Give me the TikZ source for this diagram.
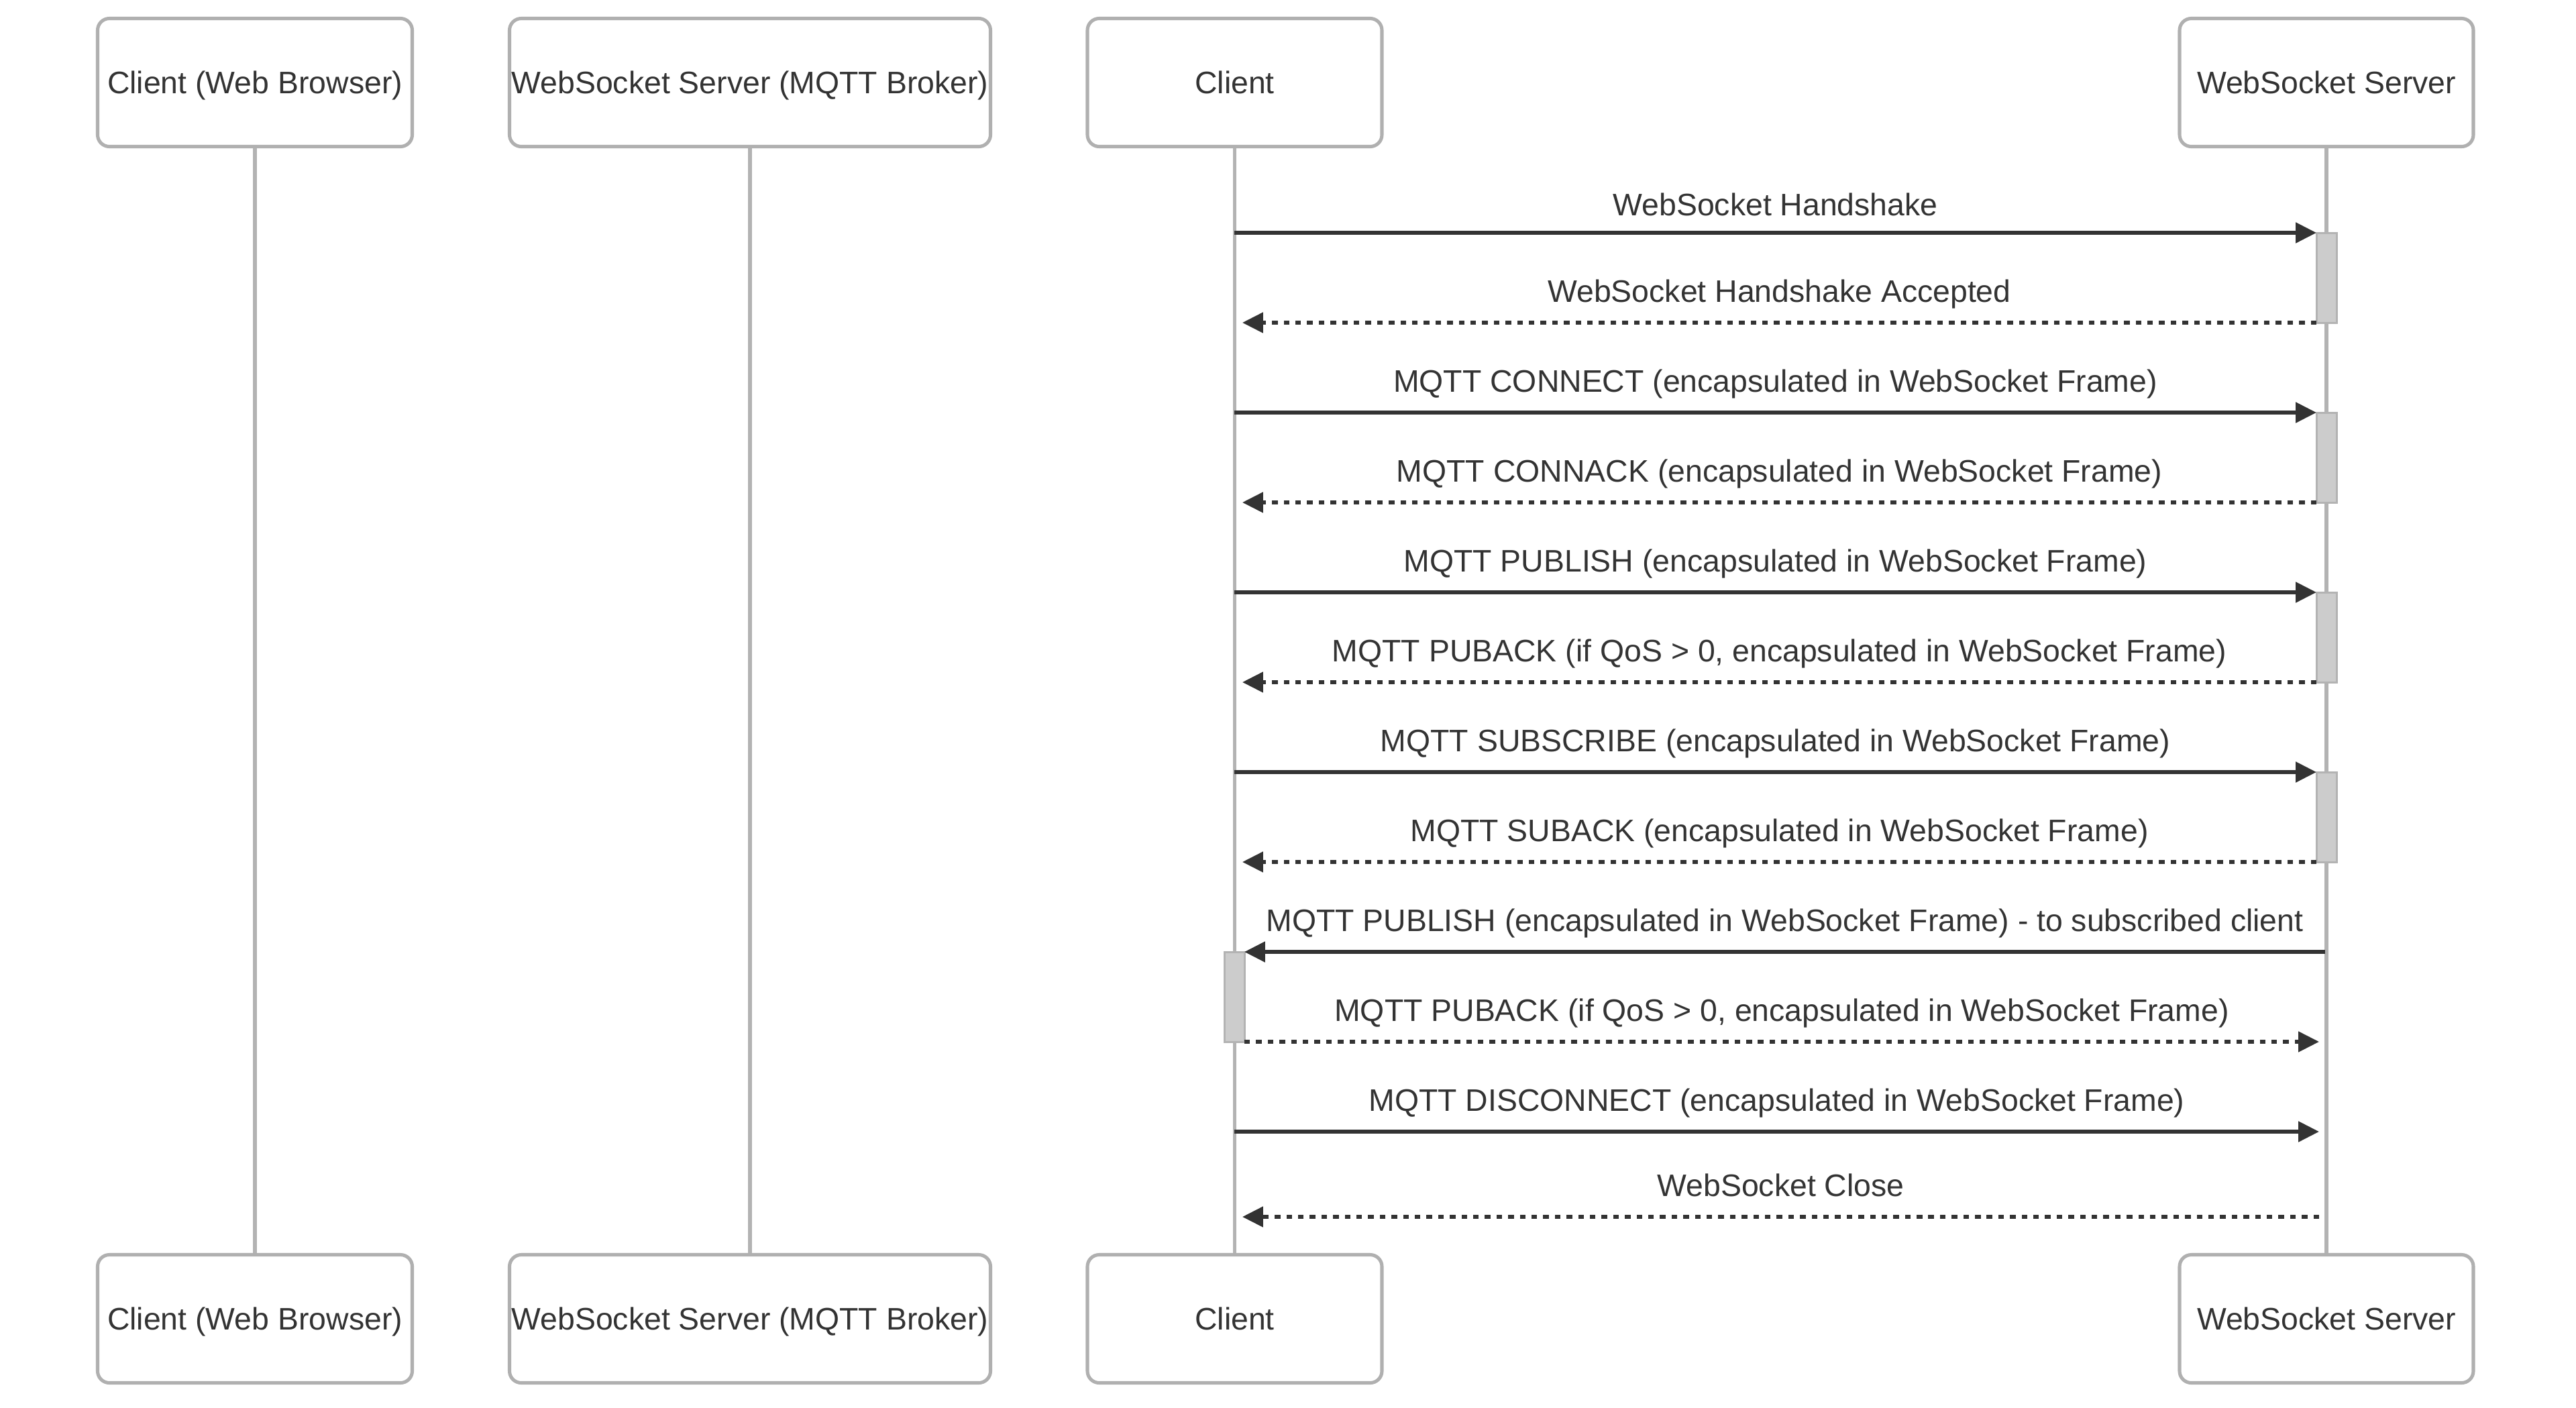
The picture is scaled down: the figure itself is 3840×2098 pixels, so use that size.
\documentclass[tikz,border=0pt]{standalone}
\usepackage{fontspec}
\setmainfont{Liberation Sans}
\usetikzlibrary{arrows.meta,calc}
\definecolor{ink}{HTML}{333333}
\definecolor{lifeg}{HTML}{B3B3B3}
\definecolor{boxg}{HTML}{B0B0B0}
\definecolor{actf}{HTML}{CCCCCC}
\begin{document}
\begin{tikzpicture}[x=0.1mm,y=-0.1mm,
  font=\fontsize{13.2pt}{16pt}\selectfont, text=ink,
  actor/.style={draw=boxg, line width=1.45pt, rounded corners=5pt, fill=white,
    minimum height=19.1mm, inner sep=0pt, text height=9.45pt, text depth=0pt},
  life/.style={draw=lifeg, line width=1.5pt},
  actbox/.style={draw=lifeg, line width=0.85pt, fill=actf, minimum width=3mm, inner sep=0pt},
  msg/.style={draw=ink, line width=1.6pt, -{Triangle[length=8.8pt,width=8.5pt]}},
  reply/.style={msg, line width=1.5pt, dash pattern=on 2.4pt off 2.55pt},
  lbl/.style={anchor=base, inner sep=0pt}]
\useasboundingbox (0,0) rectangle (3840,2098);
% actor boxes
\node[actor, minimum width=46.9mm] (aT) at (380,123) {Client (Web Browser)};
\node[actor, minimum width=71.7mm] (bT) at (1118,123) {WebSocket Server (MQTT Broker)};
\node[actor, minimum width=43.9mm] (cT) at (1840.5,123) {Client};
\node[actor, minimum width=43.8mm] (dT) at (3468,123) {WebSocket Server};
\node[actor, minimum width=46.9mm] (aB) at (380,1966) {Client (Web Browser)};
\node[actor, minimum width=71.7mm] (bB) at (1118,1966) {WebSocket Server (MQTT Broker)};
\node[actor, minimum width=43.9mm] (cB) at (1840.5,1966) {Client};
\node[actor, minimum width=43.8mm] (dB) at (3468,1966) {WebSocket Server};
% lifelines
\draw[life] (aT.south) -- (aB.north);
\draw[life] (bT.south) -- (bB.north);
\draw[life] (cT.south) -- (cB.north);
\draw[life] (dT.south) -- (dB.north);
% activations
\node[actbox, minimum height=13.4mm] (act1) at (3468,414) {};
\node[actbox, minimum height=13.4mm] (act2) at (3468,682) {};
\node[actbox, minimum height=13.4mm] (act3) at (3468,950) {};
\node[actbox, minimum height=13.4mm] (act4) at (3468,1218) {};
\node[actbox, minimum height=13.4mm] (act5) at (1840,1486) {};
% endpoints
\coordinate (c1) at (1840,347);  \coordinate (s1) at (3453,347);
\coordinate (s2) at (3453,481);  \coordinate (c2) at (1852,481);
\coordinate (c3) at (1840,615);  \coordinate (s3) at (3453,615);
\coordinate (s4) at (3453,749);  \coordinate (c4) at (1852,749);
\coordinate (c5) at (1840,883);  \coordinate (s5) at (3453,883);
\coordinate (s6) at (3453,1017); \coordinate (c6) at (1852,1017);
\coordinate (c7) at (1840,1151); \coordinate (s7) at (3453,1151);
\coordinate (s8) at (3453,1285); \coordinate (c8) at (1852,1285);
\coordinate (s9) at (3466,1419); \coordinate (c9) at (1855,1419);
\coordinate (c10) at (1855,1553); \coordinate (s10) at (3457,1553);
\coordinate (c11) at (1840,1687); \coordinate (s11) at (3457,1687);
\coordinate (s12) at (3457,1814); \coordinate (c12) at (1852,1814);
% messages
\draw[msg] (c1) -- (s1);
\draw[reply] (s2) -- (c2);
\draw[msg] (c3) -- (s3);
\draw[reply] (s4) -- (c4);
\draw[msg] (c5) -- (s5);
\draw[reply] (s6) -- (c6);
\draw[msg] (c7) -- (s7);
\draw[reply] (s8) -- (c8);
\draw[msg] (s9) -- (c9);
\draw[reply] (c10) -- (s10);
\draw[msg] (c11) -- (s11);
\draw[reply] (s12) -- (c12);
% labels
\node[lbl] (m1) at ($(c1)!0.5!(s1)+(0,-26)$) {WebSocket Handshake};
\node[lbl] (m2) at ($(c2)!0.5!(s2)+(0,-31)$) {WebSocket Handshake Accepted};
\node[lbl] (m3) at ($(c3)!0.5!(s3)+(0,-31)$) {MQTT CONNECT (encapsulated in WebSocket Frame)};
\node[lbl] (m4) at ($(c4)!0.5!(s4)+(0,-31)$) {MQTT CONNACK (encapsulated in WebSocket Frame)};
\node[lbl] (m5) at ($(c5)!0.5!(s5)+(0,-31)$) {MQTT PUBLISH (encapsulated in WebSocket Frame)};
\node[lbl] (m6) at ($(c6)!0.5!(s6)+(0,-31)$) {MQTT PUBACK (if QoS > 0, encapsulated in WebSocket Frame)};
\node[lbl] (m7) at ($(c7)!0.5!(s7)+(0,-31)$) {MQTT SUBSCRIBE (encapsulated in WebSocket Frame)};
\node[lbl] (m8) at ($(c8)!0.5!(s8)+(0,-31)$) {MQTT SUBACK (encapsulated in WebSocket Frame)};
\node[lbl] (m9) at ($(c9)!0.5!(s9)+(0,-31)$) {MQTT PUBLISH (encapsulated in WebSocket Frame) - to subscribed client};
\node[lbl] (m10) at ($(c10)!0.5!(s10)+(0,-31)$) {MQTT PUBACK (if QoS > 0, encapsulated in WebSocket Frame)};
\node[lbl] (m11) at ($(c11)!0.5!(s11)+(0,-31)$) {MQTT DISCONNECT (encapsulated in WebSocket Frame)};
\node[lbl] (m12) at ($(c12)!0.5!(s12)+(0,-31)$) {WebSocket Close};
\end{tikzpicture}
\end{document}
